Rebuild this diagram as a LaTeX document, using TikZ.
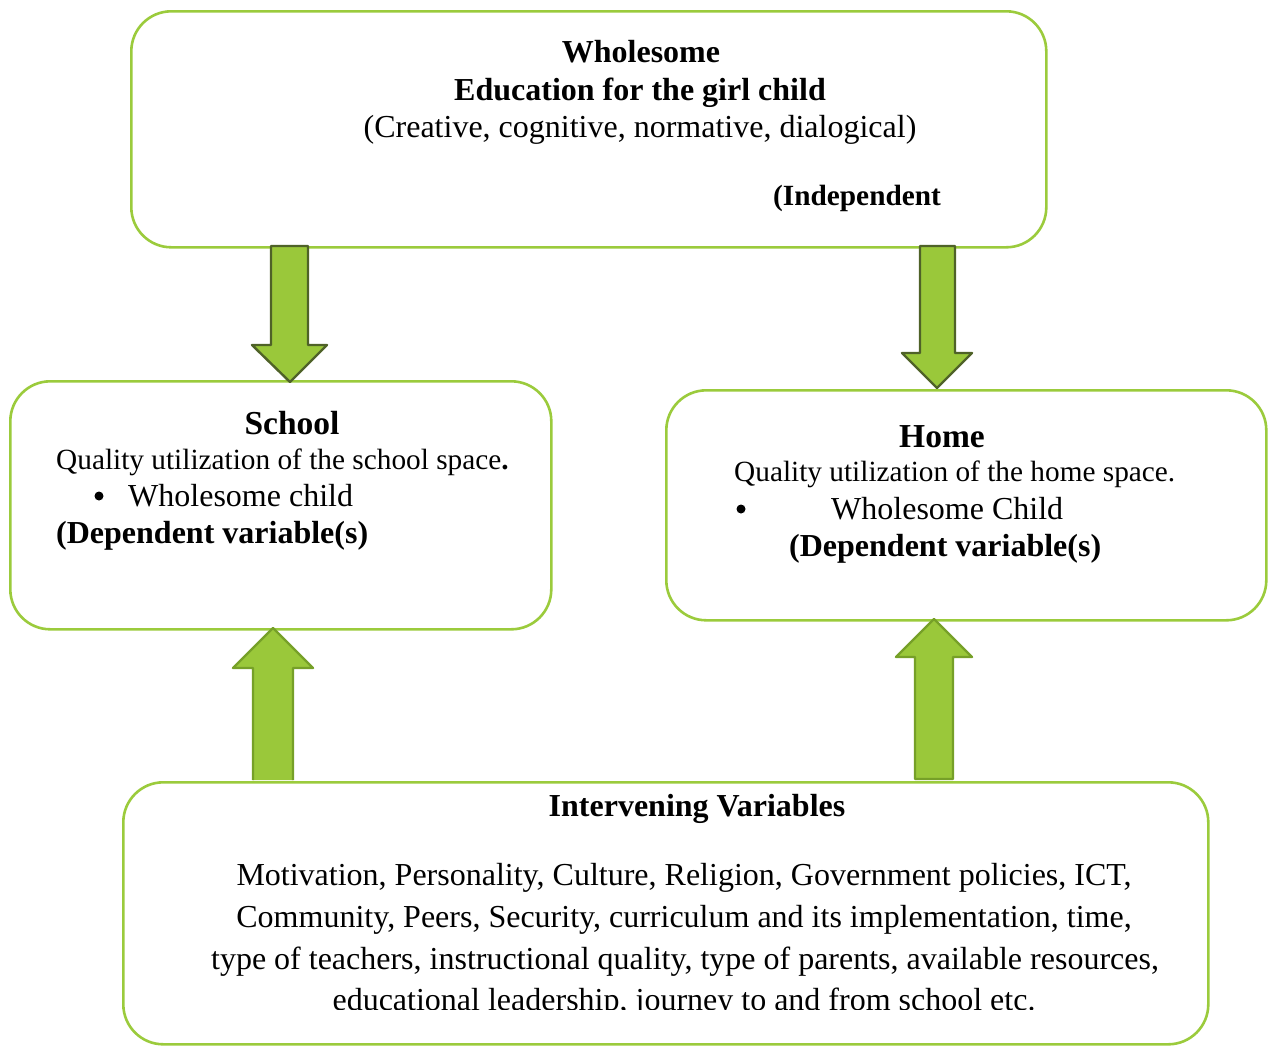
\documentclass[tikz,border=0pt]{standalone}
\usepackage{fontspec}
\setmainfont{Liberation Serif}
\definecolor{boxline}{RGB}{155,203,60}
\definecolor{arrfill}{RGB}{154,200,58}
\definecolor{arrdark}{RGB}{79,98,40}
\definecolor{arrmid}{RGB}{118,160,40}
\tikzset{
  rbox/.style={draw=boxline, line width=2.6pt, rounded corners=40pt, fill=white, inner sep=0pt},
  txt/.style={inner sep=0pt, anchor=base, font=\fontsize{32}{36}\selectfont},
  stxt/.style={inner sep=0pt, anchor=base, font=\fontsize{29.3}{34}\selectfont},
  btxt/.style={txt, font=\fontsize{32}{36}\selectfont\bfseries},
  sbtxt/.style={txt, font=\fontsize{29.3}{34}\selectfont\bfseries},
  htxt/.style={txt, font=\fontsize{33.5}{38}\selectfont\bfseries},
  dot/.style={circle, fill=black, inner sep=0pt, minimum size=9pt},
  downarr/.style={fill=arrfill, draw=arrdark, line width=2.4pt, line join=round},
  uparr/.style={fill=arrfill, draw=arrmid, line width=2.4pt, line join=round}
}
\begin{document}
\begin{tikzpicture}[x=1pt,y=-1pt]
\useasboundingbox (0,0) rectangle (1272,1045);
% boxes
\node[rbox, minimum width=915pt, minimum height=236pt, anchor=north west] (top) at (130,10) {};
\node[rbox, minimum width=541pt, minimum height=248pt, anchor=north west] (school) at (9,380) {};
\node[rbox, minimum width=600pt, minimum height=230pt, anchor=north west] (home) at (665,389) {};
\node[rbox, minimum width=1085pt, minimum height=262pt, anchor=north west] (inter) at (122,781) {};
% arrows top -> school / home
\draw[downarr] (271,246) -- (271,345) -- (252,345) -- (290,382) -- (327,345) -- (308,345) -- (308,246) -- cycle;
\draw[downarr] (920,246) -- (920,353) -- (902,353) -- (937,388) -- (972,353) -- (955,353) -- (955,246) -- cycle;
% arrows intervening -> school / home
\draw[uparr] (253,780) -- (253,668) -- (233,668) -- (273,628) -- (313,668) -- (293,668) -- (293,780);
\draw[uparr] (915,779) -- (915,657) -- (896,657) -- (934,619) -- (972,657) -- (953,657) -- (953,779) -- cycle;
% top text
\node[btxt] (t1) at (641,62) {Wholesome};
\node[btxt] (t2) at (640,100) {Education for the girl child};
\node[txt] (t3) at (640,137) {(Creative, cognitive, normative, dialogical)};
\node[sbtxt, anchor=base west] (t4) at (773,205) {(Independent};
% school text
\node[htxt] (s1) at (292,434) {School};
\node[stxt, anchor=base west] (s2) at (56,469) {Quality utilization of the school space\textbf{.}};
\node[dot] (s3) at (99,496) {};
\node[txt, anchor=base west] (s4) at (128,506) {Wholesome child};
\node[btxt, anchor=base west] (s5) at (56,543) {(Dependent variable(s)};
% home text
\node[htxt] (h1) at (942,447) {Home};
\node[stxt, anchor=base west] (h2) at (734,481) {Quality utilization of the home space.};
\node[dot] (h3) at (741,509) {};
\node[txt, anchor=base west] (h4) at (831,519) {Wholesome Child};
\node[btxt, anchor=base west] (h5) at (789,556) {(Dependent variable(s)};
% intervening text
\node[btxt] (i1) at (697,816) {Intervening Variables};
\node[txt] (i2) at (684,885) {Motivation, Personality, Culture, Religion, Government policies, ICT,};
\node[txt] (i3) at (684,927) {Community, Peers, Security, curriculum and its implementation, time,};
\node[txt] (i4) at (685,969) {type of teachers, instructional quality, type of parents, available resources,};
\begin{scope}
\clip (130,980) rectangle (1200,1009);
\node[txt] (i5) at (684,1010) {educational leadership, journey to and from school etc.};
\end{scope}
\end{tikzpicture}
\end{document}
